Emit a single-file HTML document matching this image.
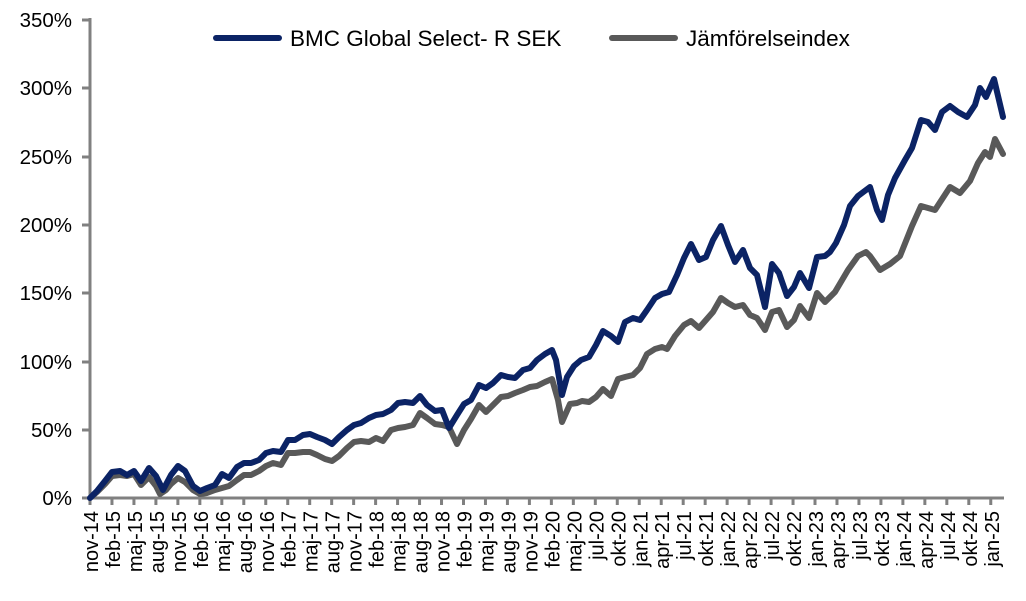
<!DOCTYPE html>
<html><head><meta charset="utf-8"><style>
html,body{margin:0;padding:0;background:#fff;}
svg text{font-family:"Liberation Sans",Arial,sans-serif;fill:#000;}
</style></head><body>
<svg width="1026" height="596" xmlns="http://www.w3.org/2000/svg">
<g font-size="20.5" text-anchor="end">
<text x="72" y="27">350%</text>
<text x="72" y="95">300%</text>
<text x="72" y="164">250%</text>
<text x="72" y="232">200%</text>
<text x="72" y="300">150%</text>
<text x="72" y="369">100%</text>
<text x="72" y="437">50%</text>
<text x="72" y="505">0%</text>
</g>
<g stroke="#808080" stroke-width="3">
<line x1="90" y1="18" x2="90" y2="499"/>
<line x1="82" y1="20" x2="90" y2="20"/><line x1="82" y1="88" x2="90" y2="88"/><line x1="82" y1="157" x2="90" y2="157"/><line x1="82" y1="225" x2="90" y2="225"/><line x1="82" y1="293" x2="90" y2="293"/><line x1="82" y1="362" x2="90" y2="362"/><line x1="82" y1="430" x2="90" y2="430"/>
<line x1="82" y1="498" x2="1004" y2="498"/>
</g>
<g id="ticks" stroke="#808080" stroke-width="3"></g>
<g id="labels" font-size="20" text-anchor="end"></g>
<polyline fill="none" stroke="#595959" stroke-width="6" stroke-linejoin="round" stroke-linecap="round" points="90,498 97,492 105,484 112,476 120,475 127,476 134,474 141,485 149,477 156,486 160,494 166,490 171,484 178,478 185,482 193,490 200,494 207,493 215,490 222,488 229,486 237,480 244,475 251,475 259,471 266,466 273,463 281,465 288,453 295,453 303,452 310,452 317,455 325,459 332,461 339,456 347,448 354,442 361,441 369,442 376,438 383,441 391,430 398,428 405,427 413,425 420,413 427,418 435,424 442,425 449,427 457,444 464,430 471,419 479,405 486,412 493,405 501,397 508,396 515,393 523,390 530,387 537,386 545,382 552,379 558,400 562,422 570,404 577,403 582,401 589,402 596,397 603,389 611,396 618,379 625,377 633,375 640,368 647,354 655,349 662,347 667,349 675,336 684,325 691,321 699,328 706,320 713,312 721,298 728,303 735,307 743,305 750,315 757,318 765,330 772,312 779,310 787,327 794,320 800,306 809,318 817,293 825,302 835,292 848,270 858,256 866,252 870,256 880,270 890,264 900,256 912,226 921,206 935,210 950,187 960,193 970,181 978,163 985,152 990,157 995,139 1003,154"/>
<polyline fill="none" stroke="#0b2365" stroke-width="6" stroke-linejoin="round" stroke-linecap="round" points="90,498 97,491 105,481 112,472 120,471 127,475 134,471 141,481 149,468 156,476 163,490 171,475 178,466 185,471 193,486 200,491 207,488 215,485 222,474 229,478 237,467 244,463 251,463 259,460 266,453 273,451 281,452 288,440 295,440 303,435 310,434 317,437 325,440 332,444 339,437 347,430 354,425 361,423 369,418 376,415 383,414 391,410 398,403 405,402 413,403 420,396 427,405 435,411 442,410 449,428 457,415 464,404 471,400 479,385 486,388 493,383 501,375 508,377 515,378 523,370 530,368 537,360 545,354 552,350 556,360 562,395 567,377 574,366 581,360 589,357 596,345 603,331 611,336 618,342 625,322 633,318 640,320 647,310 655,298 662,294 669,292 677,275 684,258 691,244 699,260 706,257 713,240 721,226 728,245 735,262 743,250 750,268 757,275 765,307 772,264 779,273 787,296 794,287 800,273 809,288 817,257 825,256 830,252 836,243 844,225 850,206 858,196 866,190 870,187 877,210 882,220 888,195 895,178 905,160 912,148 921,120 928,122 935,130 942,112 950,106 958,112 967,117 975,105 980,88 986,97 994,79 1003,117"/>
<line x1="216" y1="38" x2="279" y2="38" stroke="#0b2365" stroke-width="6" stroke-linecap="round"/>
<text x="290" y="46" font-size="22.5">BMC Global Select- R SEK</text>
<line x1="612" y1="38" x2="675" y2="38" stroke="#595959" stroke-width="6" stroke-linecap="round"/>
<text x="686" y="46" font-size="22.5">Jämförelseindex</text>
</svg>
<script>
var labs="nov-14 feb-15 maj-15 aug-15 nov-15 feb-16 maj-16 aug-16 nov-16 feb-17 maj-17 aug-17 nov-17 feb-18 maj-18 aug-18 nov-18 feb-19 maj-19 aug-19 nov-19 feb-20 maj-20 jul-20 okt-20 jan-21 apr-21 jul-21 okt-21 jan-22 apr-22 jul-22 okt-22 jan-23 apr-23 jul-23 okt-23 jan-24 apr-24 jul-24 okt-24 jan-25".split(" ");
var ns="http://www.w3.org/2000/svg";
var t=document.getElementById("ticks"),l=document.getElementById("labels");
for(var i=0;i<labs.length;i++){
 var x=90+i*21.97;
 var ln=document.createElementNS(ns,"line");
 ln.setAttribute("x1",x);ln.setAttribute("x2",x);ln.setAttribute("y1",498);ln.setAttribute("y2",505);t.appendChild(ln);
 var tx=document.createElementNS(ns,"text");
 tx.setAttribute("transform","translate("+(x+8)+",511) rotate(-90)");
 tx.textContent=labs[i];l.appendChild(tx);
}
</script>
</body></html>
